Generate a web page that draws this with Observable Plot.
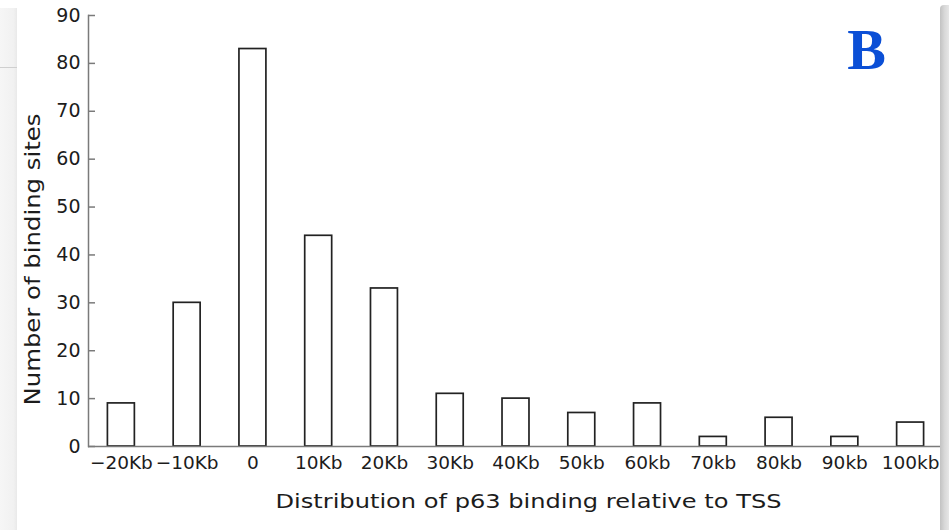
<!DOCTYPE html>
<html>
<head>
<meta charset="utf-8">
<script src="https://cdn.jsdelivr.net/npm/d3@7"></script>
<script src="https://cdn.jsdelivr.net/npm/@observablehq/plot@0.6"></script>
<style>
  html, body { margin: 0; padding: 0; background: #fff; }
  #wrap { position: relative; width: 949px; height: 530px; overflow: hidden; }
  #left-edge { position: absolute; left: 0; top: 8px; width: 17px; bottom: 0;
    background: linear-gradient(to right, #f6f6f6, #f1f1f1 80%, #e9e9e9); }
  #left-edge::after { content: ""; position: absolute; left: 0; right: 0; top: 59px; height: 1px; background: #cfcfcf; }
  #right-edge { position: absolute; left: 940px; top: 5px; width: 9px; bottom: 0;
    border-top-left-radius: 4px;
    background: linear-gradient(to right, #c2c2c2, #d8d8d8 50%, #e6e6e6); }
</style>
</head>
<body>
<div id="wrap"></div>
<script>
// Binding-site counts per distance bin from the TSS
const bins = ["−20Kb", "−10Kb", "0", "10Kb", "20Kb", "30Kb", "40Kb", "50kb", "60kb", "70kb", "80kb", "90kb", "100kb"];
const counts = [9, 30, 83, 44, 33, 11, 10, 7, 9, 2, 6, 2, 5];
const yTicks = [0, 10, 20, 30, 40, 50, 60, 70, 80, 90];
const xTitle = "Distribution of p63 binding relative to TSS";
const yTitle = "Number of binding sites";
const panelLetter = "B";

const rows = bins.map((bin, i) => ({bin, count: counts[i]}));

const W = 949, H = 530;
const mL = 88, mR = 6, mT = 15, mB = 84;
const frameW = W - mL - mR;
const axisGray = "#7a7a7a";
const ink = "#1c1c1c";

const chart = Plot.plot({
  width: W,
  height: H,
  marginLeft: mL,
  marginRight: mR,
  marginTop: mT,
  marginBottom: mB,
  style: {fontFamily: "'DejaVu Sans', sans-serif", color: ink, background: "transparent"},
  x: {domain: bins, paddingInner: 0.59, paddingOuter: 0.295, align: 0.5, round: false, label: null},
  y: {domain: [0, 90], label: null},
  marks: [
    // left axis line
    Plot.frame({anchor: "left", stroke: axisGray, strokeWidth: 1.5}),
    // inward tick marks on the y axis
    Plot.tickY(yTicks, {y: d => d, stroke: axisGray, strokeWidth: 1.5, insetRight: frameW - 7}),
    Plot.axisY({ticks: yTicks, tickSize: 0, tickPadding: 8, fontSize: 19, label: null}),
    Plot.axisX({tickSize: 0, tickPadding: 9, fontSize: 18.5, label: null}),
    Plot.barY(rows, {x: "bin", y: "count", fill: "white", stroke: "#222", strokeWidth: 1.7}),
    // baseline
    Plot.ruleY([0], {stroke: axisGray, strokeWidth: 1.5}),
    Plot.text([xTitle], {text: d => d, frameAnchor: "bottom", textAnchor: "middle", lineAnchor: "middle",
      dx: 12.5, dy: 55.5, fontSize: 20, fill: ink}),
    Plot.text([yTitle], {text: d => d, frameAnchor: "left", textAnchor: "middle", lineAnchor: "middle",
      rotate: -90, dx: -55, dy: 28.5, fontSize: 21.5, fill: ink}),
    Plot.text([panelLetter], {text: d => d, frameAnchor: "top-right", textAnchor: "middle", lineAnchor: "middle",
      dx: -77, dy: 35, fontSize: 58, fontWeight: "bold",
      fontFamily: "'Liberation Serif', 'DejaVu Serif', serif", fill: "#0b4fd6"})
  ]
});

// widen the two axis titles to the lettering width of the original figure
d3.select(chart).selectAll("text").each(function () {
  const t = this.textContent;
  if (t === xTitle) d3.select(this).attr("textLength", 506).attr("lengthAdjust", "spacingAndGlyphs");
  if (t === yTitle) d3.select(this).attr("textLength", 292).attr("lengthAdjust", "spacingAndGlyphs");
});

const wrap = document.getElementById("wrap");
wrap.appendChild(chart);
const left = document.createElement("div"); left.id = "left-edge"; wrap.appendChild(left);
const right = document.createElement("div"); right.id = "right-edge"; wrap.appendChild(right);
</script>
</body>
</html>
